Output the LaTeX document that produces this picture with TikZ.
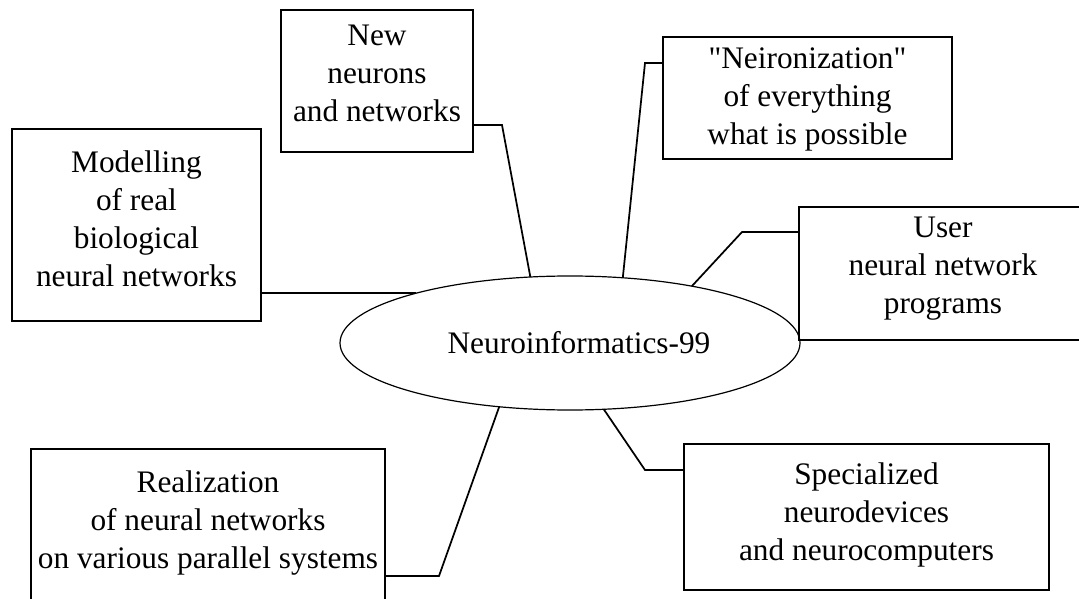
\documentclass[tikz,border=0pt]{standalone}
\usepackage{fontspec}
\setmainfont{Liberation Serif}[Ligatures=TeXOff]
\usetikzlibrary{shapes.geometric}
\begin{document}
\begin{tikzpicture}[x=0.75pt,y=-0.75pt,
  box/.style={draw=black,line width=1.4pt,rectangle,inner sep=0pt,outer sep=0pt},
  link/.style={draw=black,line width=1.3pt,line join=miter},
  lbl/.style={align=center,font=\fontsize{23.5}{28.5}\selectfont,inner sep=0pt}]
\useasboundingbox (0,0) rectangle (1079,599);
\clip (0,0) rectangle (1079,599);
\fill[white] (0,0) rectangle (1079,599);

% central ellipse
\node[ellipse,draw=black,line width=0.9pt,minimum width=460*0.75pt,minimum height=134*0.75pt,
  inner sep=0pt,outer sep=0pt] (ell) at (570,343) {};
\node[lbl] (elltxt) at (579,343) {Neuroinformatics-99};

% boxes
\node[box,minimum width=192*0.75pt,minimum height=142*0.75pt] (nn) at (377,81) {};
\node[box,minimum width=289*0.75pt,minimum height=122*0.75pt] (ne) at (807.5,98) {};
\node[box,minimum width=288*0.75pt,minimum height=133*0.75pt] (us) at (943,273.5) {};
\node[box,minimum width=249*0.75pt,minimum height=192*0.75pt] (mo) at (136.5,225) {};
\node[box,minimum width=354*0.75pt,minimum height=152*0.75pt] (re) at (208,525) {};
\node[box,minimum width=365*0.75pt,minimum height=146*0.75pt] (sp) at (866.5,517) {};

% labels
\node[lbl] (nnt) at (377,73) {New\\neurons\\and networks};
\node[lbl] (net) at (807.5,99) {"Neironization"\\of everything\\what is possible};
\node[lbl] (ust) at (943,269) {User\\neural network\\programs};
\node[lbl] (mot) at (136.5,219) {Modelling\\of real\\biological\\neural networks};
\node[lbl] (ret) at (208,523) {Realization\\of neural networks\\on various parallel systems};
\node[lbl] (spt) at (866.5,515) {Specialized\\neurodevices\\and neurocomputers};

% bend points
\coordinate (c1) at (502,125);
\coordinate (c2) at (645,63);
\coordinate (c3) at (742,232);
\coordinate (c5) at (439,576);
\coordinate (c6) at (645,470);

% connectors
\draw[link] (c1 -| nn.east) -- (c1) -- (ell.121.2);
\draw[link] (c2 -| ne.west) -- (c2) -- (ell.51);
\draw[link] (c3 -| us.west) -- (c3) -- (ell.25.8);
\draw[link] (ell.162.7 -| mo.east) -- (ell.162.7);
\draw[link] (c5 -| re.east) -- (c5) -- (ell.222.5);
\draw[link] (c6 -| sp.west) -- (c6) -- (ell.297.6);
\end{tikzpicture}
\end{document}
